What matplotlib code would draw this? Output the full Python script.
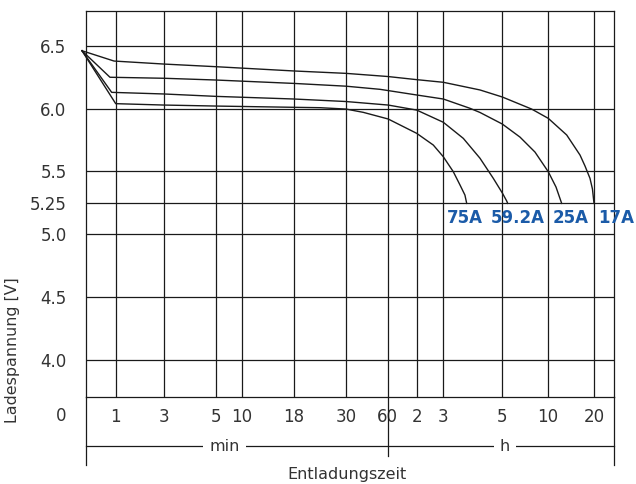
import numpy as np
import matplotlib.pyplot as plt

# Entladekurven (Zeit in Minuten, Spannung in V)
t_75 = [0, 1.0, 3, 5, 18, 24, 30, 42.4, 61, 120, 157.4, 180, 200.3, 214, 224, 227.6]
v_75 = [6.46, 6.039, 6.028, 6.02, 6.01, 6.007, 5.996, 5.970, 5.917, 5.803, 5.71, 5.617, 5.498,
        5.392, 5.312, 5.246]

t_59 = [0, 0.88, 3, 5, 18, 30, 61, 120, 180, 220.7, 254.6, 281.7, 300.4, 329, 335.7]
v_59 = [6.46, 6.129, 6.116, 6.097, 6.076, 6.056, 6.028, 5.988, 5.891, 5.763, 5.605, 5.445, 5.328,
        5.265, 5.246]

t_25 = [0, 0.83, 3, 5, 18, 30, 54.5, 120, 180, 234.3, 254.6, 300, 417, 516, 608, 707.6, 781]
v_25 = [6.46, 6.249, 6.241, 6.227, 6.20, 6.178, 6.153, 6.108, 6.076, 6.002, 5.969, 5.877, 5.773,
        5.654, 5.497, 5.376, 5.246]

t_17 = [0, 0.95, 3, 5, 18, 30, 60, 120, 180, 254.6, 300, 494, 608, 846, 1019, 1083.6, 1148, 1180,
        1200]
v_17 = [6.46, 6.378, 6.354, 6.333, 6.299, 6.28, 6.255, 6.23, 6.209, 6.148, 6.092, 5.996, 5.922,
        5.79, 5.63, 5.543, 5.445, 5.36, 5.246]

curve_names = ['75A', '59.2A', '25A', '17A']

tick_minutes = [1, 3, 5, 10, 18, 30, 60, 120, 180, 300, 600, 1200]
tick_labels = ['1', '3', '5', '10', '18', '30', '60', '2', '3', '5', '10', '20']
y_ticks = [4.0, 4.5, 5.0, 5.25, 5.5, 6.0, 6.5]
y_labels = ['4.0', '4.5', '5.0', '5.25', '5.5', '6.0', '6.5']

# nicht-lineare Zeitachse: Lage der Gitterlinien
knot_t = [0] + tick_minutes + [2400]
knot_u = [82, 115.7, 164, 216, 242, 294, 346, 387.7, 416.7, 443.3, 502.3, 547.7, 594, 640.3]


def fwd(t):
    return np.interp(t, knot_t, knot_u)


def inv(u):
    return np.interp(u, knot_u, knot_t)


txt = '#333333'
blue = '#1b5ba8'

fig = plt.figure(figsize=(6.36, 4.84), dpi=100)
ax = fig.add_axes([86 / 636, 1 - 397 / 484, 528 / 636, 386 / 484])
ax.set_xscale('function', functions=(fwd, inv))
ax.set_xlim(inv(86), inv(614))
ax.set_ylim(3.706, 6.776)

ax.set_xticks(tick_minutes)
ax.set_xticklabels(tick_labels)
ax.set_yticks(y_ticks)
ax.set_yticklabels(y_labels)
ax.minorticks_off()
ax.tick_params(axis='both', length=0, labelsize=12, labelcolor=txt)
ax.tick_params(axis='x', pad=8)
ax.tick_params(axis='y', pad=14)
ax.grid(True, color='#1a1a1a', lw=0.9)
for s in ax.spines.values():
    s.set_color('#1a1a1a')
    s.set_linewidth(0.9)

for t, v in [(t_75, v_75), (t_59, v_59), (t_25, v_25), (t_17, v_17)]:
    ax.plot(t, v, color='#1a1a1a', lw=1.0, clip_on=False, zorder=3)

# Beschriftung der Kurven
label_x = [0.717, 0.818, 0.917, 1.004]
for name, lx in zip(curve_names, label_x):
    ax.text(lx, 5.133, name, transform=ax.get_yaxis_transform(), ha='center', va='center',
            fontsize=12, fontweight='bold', color=blue, clip_on=False)

# Unterer Bereich: 0, min / h Leiste
ax.text(-0.0366, -0.0492, '0', transform=ax.transAxes, ha='right', va='center',
        fontsize=12, color=txt)
ax.plot([0, 1], [-0.127, -0.127], transform=ax.transAxes, color='#1a1a1a', lw=0.9, clip_on=False)
ax.plot([0, 0], [0, -0.176], transform=ax.transAxes, color='#1a1a1a', lw=0.9, clip_on=False)
ax.plot([1, 1], [0, -0.176], transform=ax.transAxes, color='#1a1a1a', lw=0.9, clip_on=False)
ax.plot([60, 60], [0, -0.153], transform=ax.get_xaxis_transform(), color='#1a1a1a', lw=0.9,
        clip_on=False)
for label, lx in [('min', 0.263), ('h', 0.7936)]:
    ax.text(lx, -0.127, label, transform=ax.transAxes, ha='center', va='center', fontsize=11.5,
            color=txt, bbox=dict(facecolor='white', edgecolor='none', pad=4.5))

ax.text(0.494, -0.202, 'Entladungszeit', transform=ax.transAxes, ha='center', va='center',
        fontsize=11.5, color=txt)
fig.text(13 / 636, 1 - 350 / 484, 'Ladespannung [V]', rotation=90, ha='center', va='center',
         fontsize=11.4, color=txt)

fig.savefig('out.png', dpi=100)
